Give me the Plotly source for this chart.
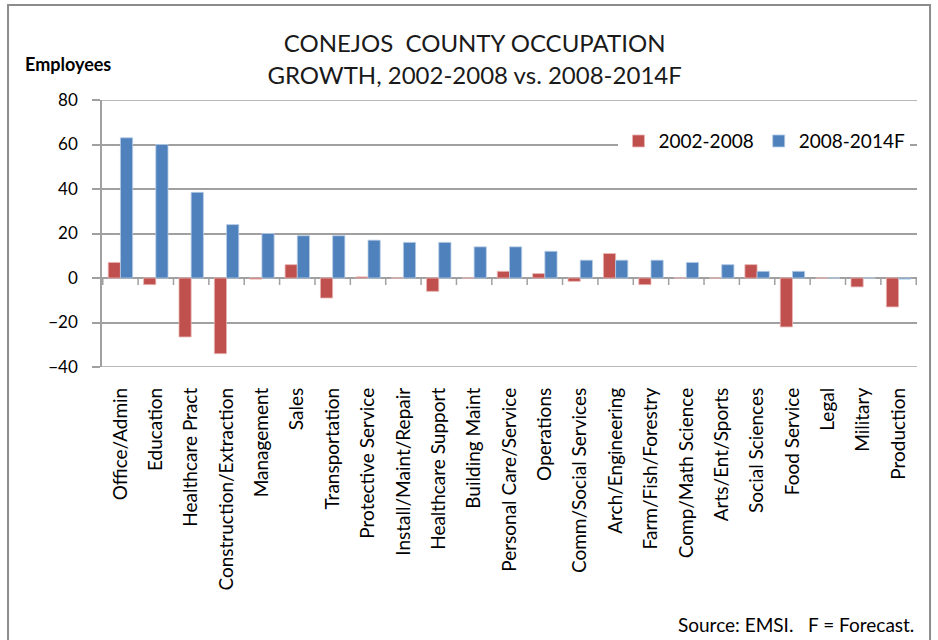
import plotly.graph_objects as go

# Occupation categories (x axis) and employee change per period
categories = [
    "Office/Admin", "Education", "Healthcare Pract", "Construction/Extraction",
    "Management", "Sales", "Transportation", "Protective Service",
    "Install/Maint/Repair", "Healthcare Support", "Building Maint",
    "Personal Care/Service", "Operations", "Comm/Social Services",
    "Arch/Engineering", "Farm/Fish/Forestry", "Comp/Math Science",
    "Arts/Ent/Sports", "Social Sciences", "Food Service", "Legal",
    "Military", "Production",
]
growth_2002_2008 = [7, -3, -26.5, -34, -0.5, 6, -9, 0.5, 0, -6, 0, 3, 2, -1.5,
                    11, -3, 0, 0, 6, -22, 0, -4, -13]
growth_2008_2014f = [63, 60, 38.5, 24, 20, 19, 19, 17, 16, 16, 14, 14, 12, 8,
                     8, 8, 7, 6, 3, 3, 0, 0, -0.5]
y_ticks = [-40, -20, 0, 20, 40, 60, 80]
y_min, y_max = -40, 80

RED = "#C0504D"
BLUE = "#4F81BD"
GRID = "#a0a0a0"
FONT = "Lato, Open Sans, sans-serif"

fig = go.Figure()
fig.add_trace(go.Bar(
    x=categories, y=growth_2002_2008, name="2002-2008",
    marker=dict(color=RED, line=dict(color="#e8b8b6", width=0.8)),
))
fig.add_trace(go.Bar(
    x=categories, y=growth_2008_2014f, name="2008-2014F",
    marker=dict(color=BLUE, line=dict(color="#b8cbe4", width=0.8)),
))

shapes = []
# Gridlines on the top and bottom edges of the value range
for v in (y_min, y_max):
    shapes.append(dict(
        type="line", xref="paper", yref="y", x0=0, x1=1, y0=v, y1=v,
        line=dict(color=GRID, width=1.5), layer="below",
    ))
# Small tick marks on the zero line at category boundaries
for i in range(len(categories) + 1):
    shapes.append(dict(
        type="line", xref="x", yref="y", x0=i - 0.5, x1=i - 0.5,
        ysizemode="pixel", yanchor=0, y0=0, y1=-7,
        line=dict(color=GRID, width=1.5),
    ))
# Outer chart frame
shapes.append(dict(
    type="rect", xref="paper", yref="paper",
    x0=-0.1153, x1=1.016, y0=-1.05, y1=1.356,
    line=dict(color="#8c8c8c", width=2), fillcolor="rgba(0,0,0,0)",
))

fig.update_layout(
    width=938, height=640,
    margin=dict(l=102, r=21, t=100, b=273),
    paper_bgcolor="white", plot_bgcolor="white",
    font=dict(family=FONT, color="#000000", size=17),
    barmode="group", bargap=0.31, bargroupgap=0,
    showlegend=True,
    legend=dict(
        orientation="h", x=0.992, xanchor="right", y=0.846, yanchor="middle",
        bgcolor="white", font=dict(size=19, family=FONT),
        itemwidth=30, tracegroupgap=0,
    ),
    title=dict(
        text="CONEJOS\u00a0 COUNTY OCCUPATION<br>GROWTH, 2002-2008 vs. 2008-2014F",
        x=0.506, xref="container", xanchor="center",
        y=0.918, yref="container", yanchor="middle",
        font=dict(size=24, family=FONT, color="#1a1a1a"),
    ),
    shapes=shapes,
    annotations=[
        dict(text="<b>Employees</b>", xref="paper", yref="paper",
             x=-0.042, y=1.135, xanchor="center", yanchor="middle",
             showarrow=False, font=dict(size=18, family=FONT)),
        dict(text="Source:\u00a0EMSI.\u00a0\u00a0\u00a0F\u00a0=\u00a0Forecast.",
             xref="paper", yref="paper", x=0.999, y=-0.965,
             xanchor="right", yanchor="middle", showarrow=False,
             font=dict(size=19, family=FONT)),
    ],
)

fig.update_xaxes(
    type="category", tickangle=-90, showgrid=False, showline=False,
    ticks="", ticklabelstandoff=16, tickfont=dict(size=19, family=FONT),
)
fig.update_yaxes(
    range=[y_min, y_max], tickvals=y_ticks, showgrid=True, gridcolor=GRID,
    gridwidth=1.5, zeroline=True, zerolinecolor=GRID, zerolinewidth=1.5,
    showline=True, linecolor=GRID, linewidth=1.5,
    ticks="outside", ticklen=8, tickcolor=GRID, tickwidth=1.5,
    ticklabelstandoff=11, tickfont=dict(size=17, family=FONT),
)

fig.write_html("out.html")
